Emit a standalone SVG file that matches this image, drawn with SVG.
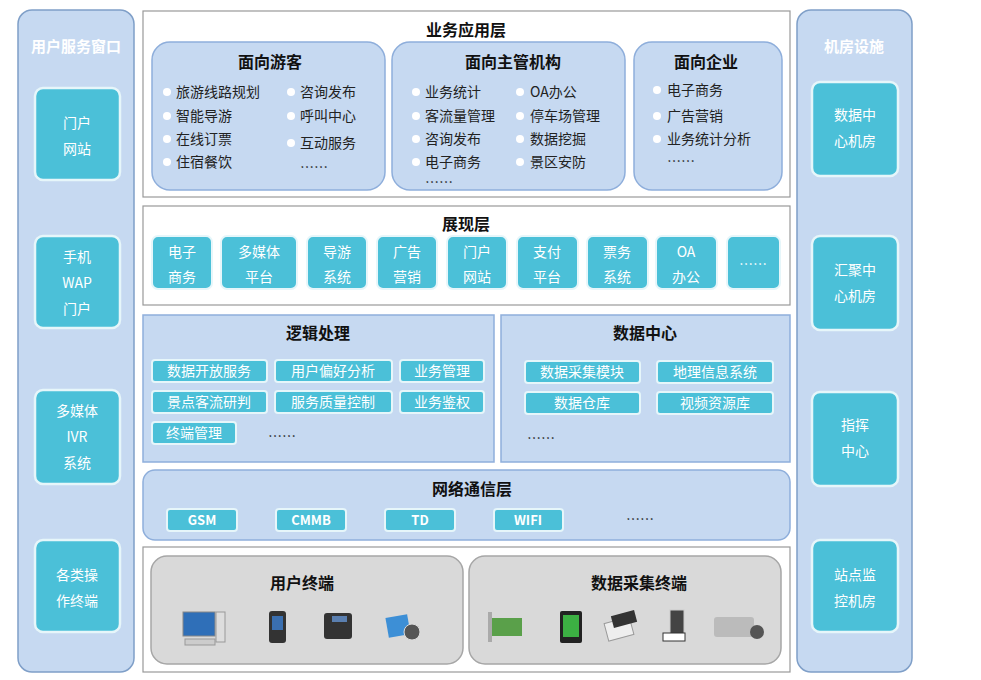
<svg xmlns="http://www.w3.org/2000/svg" width="981" height="680" viewBox="0 0 981 680">
<style>
text{font-family:"Noto Sans CJK SC","Liberation Sans",sans-serif;}
.side{fill:#c6d9f1;stroke:#7f9fc8;stroke-width:1.5}
.teal{fill:#4bc0d8;stroke:#e6f6fa;stroke-width:2}
.sbox{fill:#4bc0d8;stroke:#e6f6fa;stroke-width:2.5}
.wt{fill:#fff;font-size:14px;text-anchor:middle}
.wtb{fill:#fff;font-size:15px;font-weight:bold;text-anchor:middle}
.frame{fill:#fff;stroke:#999;stroke-width:1.2}
.panel{fill:#c6d9f1;stroke:#8eaedb;stroke-width:1.5}
.h{font-size:16px;font-weight:bold;fill:#111;text-anchor:middle}
.it{font-size:14px;fill:#222}
.dot{fill:#fff}
.gp{fill:#d9d9d9;stroke:#a6a6a6;stroke-width:1.5}
.bt{fill:#fff;font-size:13px;text-anchor:middle}
</style>
<rect width="981" height="680" fill="#fff"/>
<g id="left-column">
<rect class="side" x="18" y="10" width="116" height="662" rx="14"/>
<text class="wtb" x="76" y="52">用户服务窗口</text>
<rect class="sbox" x="35" y="88" width="85" height="92" rx="8"/><text class="wt" x="77" y="128">门户</text><text class="wt" x="77" y="154">网站</text>
<rect class="sbox" x="35" y="236" width="85" height="92" rx="8"/><text class="wt" x="77" y="262">手机</text><text class="wt" x="77" y="288">WAP</text><text class="wt" x="77" y="314">门户</text>
<rect class="sbox" x="35" y="390" width="85" height="94" rx="8"/><text class="wt" x="77" y="416">多媒体</text><text class="wt" x="77" y="442">IVR</text><text class="wt" x="77" y="468">系统</text>
<rect class="sbox" x="35" y="540" width="85" height="92" rx="8"/><text class="wt" x="77" y="580">各类操</text><text class="wt" x="77" y="606">作终端</text>
</g>
<g id="right-column">
<rect class="side" x="797" y="10" width="115" height="662" rx="14"/>
<text class="wtb" x="854" y="52">机房设施</text>
<rect class="sbox" x="812" y="82" width="86" height="94" rx="8"/><text class="wt" x="855" y="120">数据中</text><text class="wt" x="855" y="146">心机房</text>
<rect class="sbox" x="812" y="236" width="86" height="94" rx="8"/><text class="wt" x="855" y="275">汇聚中</text><text class="wt" x="855" y="301">心机房</text>
<rect class="sbox" x="812" y="392" width="86" height="94" rx="8"/><text class="wt" x="855" y="430">指挥</text><text class="wt" x="855" y="456">中心</text>
<rect class="sbox" x="812" y="540" width="86" height="92" rx="8"/><text class="wt" x="855" y="580">站点监</text><text class="wt" x="855" y="606">控机房</text>
</g>
<g id="app-layer">
<rect class="frame" x="143" y="11" width="647" height="186"/>
<text class="h" x="466" y="36">业务应用层</text>
<rect class="panel" x="152" y="42" width="233" height="148" rx="18"/>
<text class="h" x="270" y="68">面向游客</text>
<g class="it">
<circle class="dot" cx="167" cy="92" r="4"/><text x="176" y="97">旅游线路规划</text>
<circle class="dot" cx="167" cy="116" r="4"/><text x="176" y="121">智能导游</text>
<circle class="dot" cx="167" cy="139" r="4"/><text x="176" y="144">在线订票</text>
<circle class="dot" cx="167" cy="162" r="4"/><text x="176" y="167">住宿餐饮</text>
<circle class="dot" cx="291" cy="92" r="4"/><text x="300" y="97">咨询发布</text>
<circle class="dot" cx="291" cy="116" r="4"/><text x="300" y="121">呼叫中心</text>
<circle class="dot" cx="291" cy="143" r="4"/><text x="300" y="148">互动服务</text>
<text x="300" y="172">……</text>
</g>
<rect class="panel" x="392" y="42" width="233" height="148" rx="18"/>
<text class="h" x="513" y="68">面向主管机构</text>
<g class="it">
<circle class="dot" cx="416" cy="92" r="4"/><text x="425" y="97">业务统计</text>
<circle class="dot" cx="416" cy="116" r="4"/><text x="425" y="121">客流量管理</text>
<circle class="dot" cx="416" cy="139" r="4"/><text x="425" y="144">咨询发布</text>
<circle class="dot" cx="416" cy="162" r="4"/><text x="425" y="167">电子商务</text>
<text x="425" y="187">……</text>
<circle class="dot" cx="520" cy="92" r="4"/><text x="530" y="97">OA办公</text>
<circle class="dot" cx="520" cy="116" r="4"/><text x="530" y="121">停车场管理</text>
<circle class="dot" cx="520" cy="139" r="4"/><text x="530" y="144">数据挖掘</text>
<circle class="dot" cx="520" cy="162" r="4"/><text x="530" y="167">景区安防</text>
</g>
<rect class="panel" x="634" y="42" width="148" height="148" rx="18"/>
<text class="h" x="706" y="68">面向企业</text>
<g class="it">
<circle class="dot" cx="657" cy="90" r="4"/><text x="667" y="95">电子商务</text>
<circle class="dot" cx="657" cy="116" r="4"/><text x="667" y="121">广告营销</text>
<circle class="dot" cx="657" cy="139" r="4"/><text x="667" y="144">业务统计分析</text>
<text x="667" y="166">……</text>
</g>
</g>
<g id="presentation-layer">
<rect class="frame" x="143" y="206" width="647" height="99"/>
<text class="h" x="466" y="230">展现层</text>
<rect class="teal" x="152" y="236" width="60" height="53" rx="6"/><text class="wt" x="182" y="257">电子</text><text class="wt" x="182" y="282">商务</text>
<rect class="teal" x="221" y="236" width="76" height="53" rx="6"/><text class="wt" x="259" y="257">多媒体</text><text class="wt" x="259" y="282">平台</text>
<rect class="teal" x="307" y="236" width="60" height="53" rx="6"/><text class="wt" x="337" y="257">导游</text><text class="wt" x="337" y="282">系统</text>
<rect class="teal" x="377" y="236" width="60" height="53" rx="6"/><text class="wt" x="407" y="257">广告</text><text class="wt" x="407" y="282">营销</text>
<rect class="teal" x="447" y="236" width="60" height="53" rx="6"/><text class="wt" x="477" y="257">门户</text><text class="wt" x="477" y="282">网站</text>
<rect class="teal" x="517" y="236" width="61" height="53" rx="6"/><text class="wt" x="547" y="257">支付</text><text class="wt" x="547" y="282">平台</text>
<rect class="teal" x="587" y="236" width="61" height="53" rx="6"/><text class="wt" x="617" y="257">票务</text><text class="wt" x="617" y="282">系统</text>
<rect class="teal" x="656" y="236" width="61" height="53" rx="6"/><text class="wt" x="686" y="257">OA</text><text class="wt" x="686" y="282">办公</text>
<rect class="teal" x="727" y="236" width="53" height="53" rx="6"/><text class="wt" x="753" y="269">……</text>
</g>
<g id="logic">
<rect class="panel" x="143" y="315" width="351" height="147"/>
<text class="h" x="318" y="339">逻辑处理</text>
<rect class="teal" x="152" y="360" width="115" height="22" rx="3"/><text class="wt" x="209" y="376">数据开放服务</text>
<rect class="teal" x="275" y="360" width="117" height="22" rx="3"/><text class="wt" x="333" y="376">用户偏好分析</text>
<rect class="teal" x="400" y="360" width="84" height="22" rx="3"/><text class="wt" x="442" y="376">业务管理</text>
<rect class="teal" x="152" y="391" width="115" height="22" rx="3"/><text class="wt" x="209" y="407">景点客流研判</text>
<rect class="teal" x="275" y="391" width="117" height="22" rx="3"/><text class="wt" x="333" y="407">服务质量控制</text>
<rect class="teal" x="400" y="391" width="84" height="22" rx="3"/><text class="wt" x="442" y="407">业务鉴权</text>
<rect class="teal" x="152" y="422" width="84" height="22" rx="3"/><text class="wt" x="194" y="438">终端管理</text>
<text class="it" x="268" y="441">……</text>
</g>
<g id="data-center">
<rect class="panel" x="501" y="315" width="289" height="147"/>
<text class="h" x="645" y="339">数据中心</text>
<rect class="teal" x="525" y="361" width="115" height="22" rx="3"/><text class="wt" x="582" y="377">数据采集模块</text>
<rect class="teal" x="657" y="361" width="116" height="22" rx="3"/><text class="wt" x="715" y="377">地理信息系统</text>
<rect class="teal" x="525" y="392" width="115" height="22" rx="3"/><text class="wt" x="582" y="408">数据仓库</text>
<rect class="teal" x="657" y="392" width="116" height="22" rx="3"/><text class="wt" x="715" y="408">视频资源库</text>
<text class="it" x="527" y="443">……</text>
</g>
<g id="network-layer">
<rect class="panel" x="143" y="470" width="647" height="70" rx="12"/>
<text class="h" x="472" y="495">网络通信层</text>
<rect class="teal" x="167" y="509" width="70" height="22" rx="3"/><text class="bt" x="202" y="525" font-weight="bold">GSM</text>
<rect class="teal" x="276" y="509" width="70" height="22" rx="3"/><text class="bt" x="311" y="525" font-weight="bold">CMMB</text>
<rect class="teal" x="385" y="509" width="70" height="22" rx="3"/><text class="bt" x="420" y="525" font-weight="bold">TD</text>
<rect class="teal" x="494" y="509" width="69" height="22" rx="3"/><text class="bt" x="528" y="525" font-weight="bold">WIFI</text>
<text class="it" x="626" y="524">……</text>
</g>
<g id="terminal-layer">
<rect class="frame" x="143" y="547" width="647" height="125"/>
<rect class="gp" x="151" y="556" width="312" height="108" rx="16"/>
<text class="h" x="302" y="589">用户终端</text>
<rect class="gp" x="469" y="556" width="312" height="108" rx="16"/>
<text class="h" x="639" y="589">数据采集终端</text>
<!-- user terminal icons -->
<rect x="183" y="612" width="32" height="24" fill="#2f6fb8" stroke="#888"/>
<rect x="216" y="612" width="9" height="30" fill="#ddd" stroke="#999"/>
<rect x="185" y="639" width="30" height="6" fill="#ccc" stroke="#999"/>
<rect x="269" y="611" width="17" height="32" rx="3" fill="#333"/><rect x="272" y="616" width="11" height="14" fill="#3a6fb0"/>
<rect x="324" y="613" width="28" height="26" rx="3" fill="#333"/><rect x="332" y="616" width="15" height="6" fill="#5a7fb0"/>
<rect x="387" y="616" width="22" height="20" fill="#3d8fd6" transform="rotate(-10 398 626)"/><circle cx="412" cy="632" r="8" fill="#555" stroke="#ddd"/>
<!-- data terminal icons -->
<rect x="488" y="618" width="34" height="18" fill="#5aa04a"/><rect x="488" y="612" width="4" height="30" fill="#aaa"/>
<rect x="560" y="611" width="22" height="32" rx="2" fill="#222"/><rect x="563" y="615" width="16" height="22" fill="#3cb043"/>
<rect x="606" y="620" width="26" height="18" fill="#eee" stroke="#999" transform="rotate(-15 619 629)"/><rect x="612" y="613" width="24" height="12" fill="#333" transform="rotate(-15 624 619)"/>
<rect x="670" y="610" width="14" height="24" fill="#444" stroke="#ccc"/><rect x="663" y="633" width="22" height="8" fill="#fff" stroke="#333"/>
<rect x="714" y="617" width="40" height="20" rx="3" fill="#bbb"/><circle cx="757" cy="632" r="7" fill="#555"/>
</g>
</svg>
